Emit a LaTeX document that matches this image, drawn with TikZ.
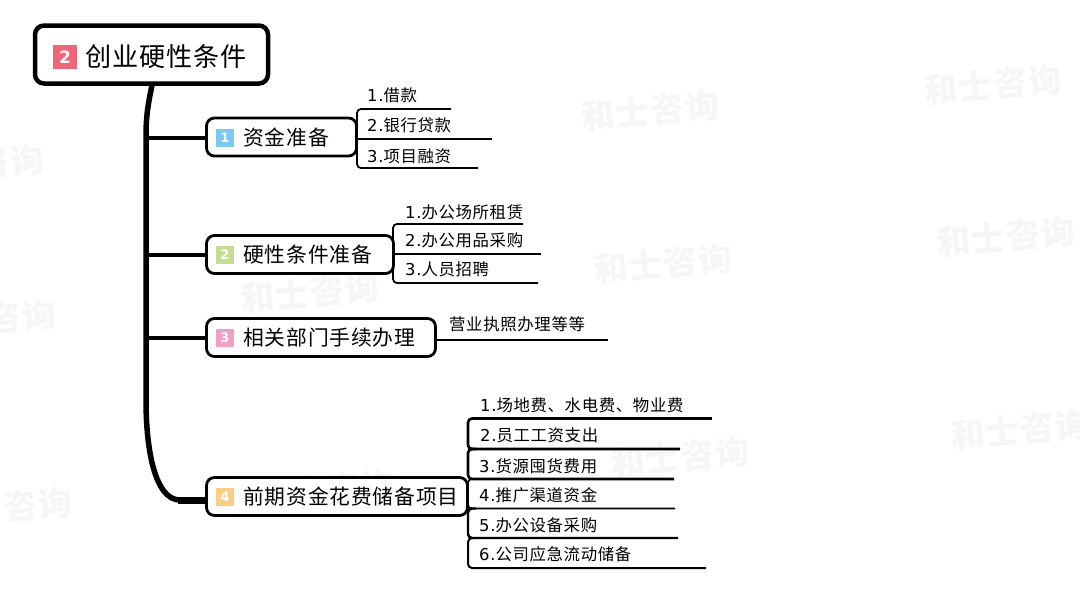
\documentclass[tikz,border=0pt]{standalone}
\usepackage{fontspec}
\setmainfont[LetterSpace=4]{Noto Sans CJK SC}
\newfontfamily\latnfont[LetterSpace=4]{DejaVu Sans}
\newcommand{\tn}[1]{{\latnfont #1}}
\definecolor{markred}{HTML}{EE6677}
\definecolor{markblue}{HTML}{7CC8EE}
\definecolor{markgreen}{HTML}{C5DD92}
\definecolor{markpink}{HTML}{F0A0C4}
\definecolor{markorange}{HTML}{F8CE84}
\definecolor{wmgray}{HTML}{F6F6F6}
\tikzset{
    rootbox/.style={draw,fill=white,line width=4.5pt,rounded corners=9pt,inner sep=0pt},
    topicbox/.style={draw,fill=white,line width=2.8pt,rounded corners=8pt,inner sep=0pt},
    nummark/.style={fill=#1,text=white,minimum size=18pt,inner sep=0pt,font=\fontsize{13}{13}\latnfont\bfseries},
    roottext/.style={anchor=west,inner sep=0pt,font=\fontsize{26.1}{27}\selectfont},
    toptext/.style={anchor=west,inner sep=0pt,font=\fontsize{20.8}{21}\selectfont},
    leaftext/.style={anchor=west,inner sep=0pt,font=\fontsize{16.4}{17}\selectfont},
    wmark/.style={text=wmgray,rotate=5,inner sep=0pt,font=\fontsize{33.6}{34}\bfseries\selectfont},
    trunk/.style={line width=5.5pt},
    branch/.style={line width=4pt},
    leafline/.style={line width=#1,rounded corners=4pt},
    leafline/.default=1.8pt,
}
\begin{document}
\begin{tikzpicture}[x=1pt,y=-1pt]
    \useasboundingbox (0,0) rectangle (1080,600);
    % watermarks
    \foreach \wx/\wy in {650/111,993/85,1006/237,663/264,310/293,1020/430,680/457,327/490,-25/165,-13/320,3/508}
        \node[wmark] at (\wx,\wy) {和士咨询};
    % trunk and branches
    \coordinate (j1) at (146,138);
    \coordinate (j2) at (146,255);
    \coordinate (j3) at (146,338);
    \coordinate (j4) at (206,500);
    \draw[trunk] (152,85) .. controls (148,105) and (146,115) .. (j1) -- (j2) -- (j3) -- (146,400) .. controls (146,450) and (155,500) .. (180,500);
    \draw[line width=7pt] (178,500) -- (j4);
    \draw[branch] (j1) -- (206,138);
    \draw[branch] (j2) -- (206,255);
    \draw[branch] (j3) -- (206,338);
    % root and topics
    \node[rootbox,minimum width=233pt,minimum height=58pt] (root) at (151.5,54.5) {};
    \node[topicbox,minimum width=150pt,minimum height=38pt] (fund) at (281.5,137) {};
    \node[topicbox,minimum width=187pt,minimum height=38pt] (hard) at (300,254.5) {};
    \node[topicbox,minimum width=229pt,minimum height=38pt] (dept) at (321,337.5) {};
    \node[topicbox,minimum width=261pt,minimum height=38pt] (cost) at (337,496.5) {};
    % number marks and titles
    \node[nummark=markred,minimum size=24pt,font=\fontsize{17}{17}\latnfont\bfseries] (m0) at (65,57) {2};
    \node[roottext] (t0) at (85,57) {创业硬性条件};
    \node[nummark=markblue] (m1) at (225,138) {1};
    \node[toptext] (t1) at (243,138) {资金准备};
    \node[nummark=markgreen] (m2) at (225,255) {2};
    \node[toptext] (t2) at (243,255) {硬性条件准备};
    \node[nummark=markpink] (m3) at (225,338) {3};
    \node[toptext] (t3) at (243,338) {相关部门手续办理};
    \node[nummark=markorange] (m4) at (225,497) {4};
    \node[toptext] (t4) at (243,497) {前期资金花费储备项目};
    % leaves of fund
    \node[leaftext] (a1) at (367,95) {\tn{1.}借款};
    \node[leaftext] (a2) at (367,125) {\tn{2.}银行贷款};
    \node[leaftext] (a3) at (367,156) {\tn{3.}项目融资};
    \coordinate (a1e) at (451,109);
    \coordinate (a2e) at (492,139);
    \coordinate (a3e) at (478,168);
    \draw[leafline] (a1e) -- (357,109) -- (357,168) -- (a3e);
    \draw[leafline] (fund.east |- a2e) -- (a2e);
    % leaves of hard
    \node[leaftext] (b1) at (405,212) {\tn{1.}办公场所租赁};
    \node[leaftext] (b2) at (405,240) {\tn{2.}办公用品采购};
    \node[leaftext] (b3) at (405,269) {\tn{3.}人员招聘};
    \coordinate (b1e) at (523,224);
    \coordinate (b2e) at (541,254);
    \coordinate (b3e) at (538,283);
    \draw[leafline] (b1e) -- (393,224) -- (393,283) -- (b3e);
    \draw[leafline=2.6pt] (hard.east |- b2e) -- (b2e);
    % leaf of dept
    \node[leaftext] (c1) at (449,324) {营业执照办理等等};
    \coordinate (c1e) at (608,340);
    \draw[leafline] (dept.east |- c1e) -- (c1e);
    % leaves of cost
    \node[leaftext] (d1) at (480,405) {\tn{1.}场地费、水电费、物业费};
    \node[leaftext] (d2) at (480,435) {\tn{2.}员工工资支出};
    \node[leaftext] (d3) at (479,466) {\tn{3.}货源囤货费用};
    \node[leaftext] (d4) at (479,495) {\tn{4.}推广渠道资金};
    \node[leaftext] (d5) at (479,525) {\tn{5.}办公设备采购};
    \node[leaftext] (d6) at (479,554) {\tn{6.}公司应急流动储备};
    \coordinate (d1e) at (712,418.5);
    \coordinate (d2e) at (680,449);
    \coordinate (d3e) at (674,479);
    \coordinate (d4e) at (675,508.5);
    \coordinate (d5e) at (678,538);
    \coordinate (d6e) at (706,568);
    \draw[leafline=3pt] (d1e) -- (472,418.5);
    \draw[leafline=2.6pt] (d2e) -- (468,449) -- (468,418.5) -- (476,418.5);
    \draw[leafline=2.6pt] (d3e) -- (468,479) -- (468,449) -- (476,449);
    \draw[leafline=1.6pt] (d4e) -- (468,508.5) -- (468,479) -- (476,479);
    \draw[leafline=2.4pt] (d5e) -- (468,538) -- (468,508.5) -- (476,508.5);
    \draw[leafline=2pt] (d6e) -- (468,568) -- (468,538) -- (476,538);
\end{tikzpicture}
\end{document}
